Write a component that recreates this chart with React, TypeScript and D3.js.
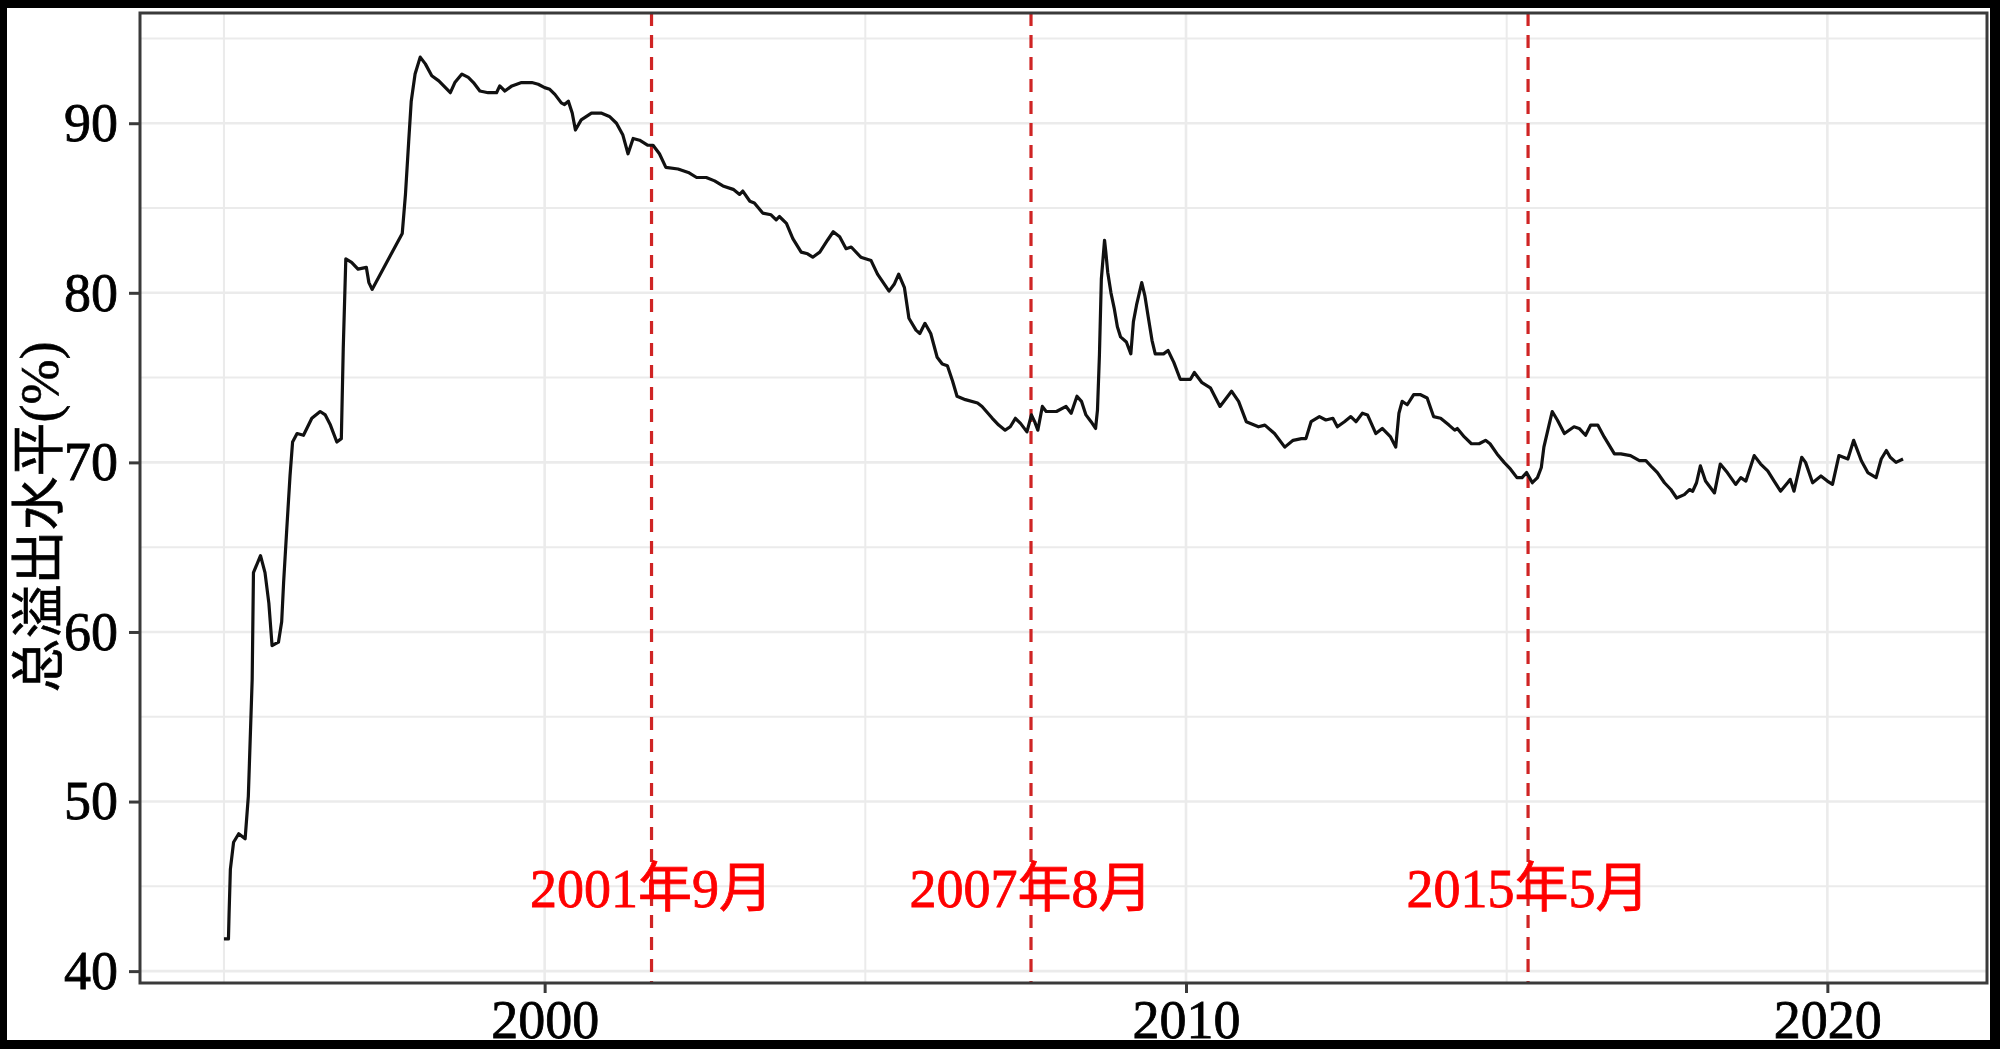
import React, { useEffect, useRef } from "react";
import * as d3 from "d3";

// spillover level over time (decimal years)
const years = [
  1995.0, 1995.07, 1995.08, 1995.1, 1995.15, 1995.23, 1995.33, 1995.38, 1995.44, 1995.46,
  1995.57, 1995.64, 1995.7, 1995.75, 1995.85, 1995.9, 1995.93, 1995.98, 1996.03, 1996.07,
  1996.14, 1996.24, 1996.37, 1996.5, 1996.58, 1996.66, 1996.76, 1996.83, 1996.86, 1996.9,
  1996.99, 1997.09, 1997.22, 1997.26, 1997.31, 1997.78, 1997.83, 1997.88, 1997.92, 1997.98,
  1998.06, 1998.14, 1998.24, 1998.35, 1998.53, 1998.6, 1998.71, 1998.81, 1998.89, 1998.99,
  1999.12, 1999.25, 1999.3, 1999.38, 1999.49, 1999.64, 1999.8, 1999.9, 2000.0, 2000.08,
  2000.16, 2000.26, 2000.31, 2000.37, 2000.43, 2000.48, 2000.57, 2000.73, 2000.88, 2001.01,
  2001.12, 2001.22, 2001.3, 2001.38, 2001.48, 2001.61, 2001.69, 2001.79, 2001.89, 2002.08,
  2002.24, 2002.37, 2002.52, 2002.65, 2002.78, 2002.94, 2003.04, 2003.09, 2003.2, 2003.27,
  2003.4, 2003.53, 2003.61, 2003.66, 2003.77, 2003.87, 2004.0, 2004.1, 2004.18, 2004.29,
  2004.41, 2004.5, 2004.6, 2004.7, 2004.78, 2004.93, 2005.09, 2005.19, 2005.37, 2005.45,
  2005.52, 2005.61, 2005.68, 2005.79, 2005.85, 2005.93, 2006.02, 2006.12, 2006.2, 2006.28,
  2006.36, 2006.43, 2006.56, 2006.75, 2006.82, 2006.98, 2007.08, 2007.18, 2007.26, 2007.34,
  2007.42, 2007.52, 2007.59, 2007.64, 2007.69, 2007.76, 2007.82, 2007.98, 2008.13, 2008.21,
  2008.3, 2008.37, 2008.44, 2008.52, 2008.59, 2008.62, 2008.65, 2008.68, 2008.73, 2008.75,
  2008.78, 2008.83, 2008.88, 2008.93, 2008.98, 2009.07, 2009.14, 2009.18, 2009.23, 2009.31,
  2009.36, 2009.41, 2009.47, 2009.52, 2009.65, 2009.72, 2009.81, 2009.91, 2010.07, 2010.13,
  2010.25, 2010.38, 2010.53, 2010.71, 2010.82, 2010.94, 2011.13, 2011.23, 2011.38, 2011.54,
  2011.67, 2011.8, 2011.87, 2011.95, 2012.08, 2012.18, 2012.29, 2012.36, 2012.47, 2012.57,
  2012.65, 2012.75, 2012.83, 2012.96, 2013.06, 2013.19, 2013.27, 2013.32, 2013.37, 2013.45,
  2013.55, 2013.65, 2013.76, 2013.86, 2013.97, 2014.1, 2014.19, 2014.23, 2014.34, 2014.45,
  2014.57, 2014.67, 2014.74, 2014.85, 2014.96, 2015.06, 2015.16, 2015.24, 2015.31, 2015.4,
  2015.48, 2015.54, 2015.58, 2015.66, 2015.71, 2015.79, 2015.9, 2016.05, 2016.13, 2016.23,
  2016.31, 2016.42, 2016.52, 2016.68, 2016.78, 2016.93, 2017.07, 2017.17, 2017.27, 2017.35,
  2017.46, 2017.56, 2017.65, 2017.77, 2017.85, 2017.9, 2017.96, 2018.02, 2018.1, 2018.24,
  2018.33, 2018.44, 2018.57, 2018.65, 2018.73, 2018.86, 2018.96, 2019.07, 2019.17, 2019.27,
  2019.38, 2019.42, 2019.48, 2019.6, 2019.66, 2019.77, 2019.9, 2020.0, 2020.08, 2020.18,
  2020.32, 2020.41, 2020.53, 2020.63, 2020.76, 2020.84, 2020.92, 2020.98, 2021.07, 2021.18,
];

const spillover = [
  41.9, 41.9, 43.4, 46.0, 47.6, 48.1, 47.8, 50.3, 57.2, 63.5,
  64.5, 63.5, 61.7, 59.2, 59.4, 60.6, 62.9, 66.1, 69.2, 71.2,
  71.7, 71.6, 72.6, 73.0, 72.8, 72.2, 71.2, 71.4, 76.7, 82.0,
  81.8, 81.4, 81.5, 80.6, 80.2, 83.5, 85.8, 88.9, 91.3, 92.9,
  93.9, 93.5, 92.8, 92.5, 91.8, 92.4, 92.9, 92.7, 92.4, 91.9,
  91.8, 91.8, 92.2, 91.9, 92.2, 92.4, 92.4, 92.3, 92.1, 92.0,
  91.7, 91.2, 91.1, 91.3, 90.6, 89.6, 90.2, 90.6, 90.6, 90.4,
  90.0, 89.3, 88.2, 89.1, 89.0, 88.7, 88.7, 88.2, 87.4, 87.3,
  87.1, 86.8, 86.8, 86.6, 86.3, 86.1, 85.8, 86.0, 85.4, 85.3,
  84.7, 84.6, 84.3, 84.5, 84.1, 83.2, 82.4, 82.3, 82.1, 82.4,
  83.1, 83.6, 83.3, 82.6, 82.7, 82.1, 81.9, 81.1, 80.1, 80.5,
  81.1, 80.3, 78.5, 77.8, 77.6, 78.2, 77.6, 76.2, 75.8, 75.7,
  74.8, 73.9, 73.7, 73.5, 73.3, 72.6, 72.2, 71.9, 72.1, 72.6,
  72.3, 71.8, 72.8, 72.4, 71.9, 73.3, 73.0, 73.0, 73.3, 72.9,
  73.9, 73.6, 72.8, 72.4, 72.0, 73.1, 76.3, 80.8, 83.1, 82.4,
  81.2, 80.0, 79.1, 78.0, 77.4, 77.1, 76.4, 78.3, 79.3, 80.6,
  79.8, 78.6, 77.2, 76.4, 76.4, 76.6, 75.9, 74.9, 74.9, 75.3,
  74.7, 74.4, 73.3, 74.2, 73.6, 72.4, 72.1, 72.2, 71.7, 70.9,
  71.3, 71.4, 71.4, 72.4, 72.7, 72.5, 72.6, 72.1, 72.4, 72.7,
  72.4, 72.9, 72.8, 71.7, 72.0, 71.5, 70.9, 72.9, 73.6, 73.4,
  74.0, 74.0, 73.8, 72.7, 72.6, 72.2, 71.9, 72.0, 71.5, 71.1,
  71.1, 71.3, 71.1, 70.5, 70.0, 69.6, 69.1, 69.1, 69.4, 68.8,
  69.1, 69.7, 70.9, 72.2, 73.0, 72.5, 71.7, 72.1, 72.0, 71.6,
  72.2, 72.2, 71.5, 70.5, 70.5, 70.4, 70.1, 70.1, 69.7, 69.4,
  68.8, 68.4, 67.9, 68.1, 68.4, 68.3, 68.8, 69.8, 68.9, 68.2,
  69.9, 69.4, 68.7, 69.1, 68.9, 70.4, 69.9, 69.5, 68.9, 68.3,
  68.8, 69.0, 68.3, 70.3, 70.0, 68.8, 69.2, 68.9, 68.7, 70.4,
  70.2, 71.3, 70.1, 69.4, 69.1, 70.2, 70.7, 70.3, 70.0, 70.2,
];

// marked events: Sep 2001, Aug 2007, May 2015
const eventYears = [2001 + 8 / 12, 2007 + 7 / 12, 2015 + 4 / 12];
const eventLabels = ["2001年9月", "2007年8月", "2015年5月"];

const yTicks = [40, 50, 60, 70, 80, 90];
const yMinor = [45, 55, 65, 75, 85, 95];
const xTicks = [2000, 2010, 2020];
const xMinor = [1995, 2005, 2015];

const yTitle = "总溢出水平(%)";

const FONT = "'Liberation Serif', 'Times New Roman', 'Noto Sans CJK SC', serif";

const App = () => {
  const ref = useRef<SVGSVGElement | null>(null);

  useEffect(() => {
    const width = 2000,
      height = 1049;
    const margin = { top: 13, right: 13, bottom: 66, left: 140 };

    const svg = d3.select(ref.current);
    svg.selectAll("*").remove();

    svg.append("rect").attr("width", width).attr("height", height).attr("fill", "#fff");

    const data = years.map((t, i) => ({ t, v: spillover[i] }));

    // ggplot-like 5% expansion of the data range
    const [t0, t1] = d3.extent(years) as [number, number];
    const [v0, v1] = d3.extent(spillover) as [number, number];
    const tPad = (t1 - t0) * 0.05,
      vPad = (v1 - v0) * 0.05;

    const x = d3
      .scaleLinear()
      .domain([t0 - tPad, t1 + tPad])
      .range([margin.left, width - margin.right]);
    const y = d3
      .scaleLinear()
      .domain([v0 - vPad, v1 + vPad])
      .range([height - margin.bottom, margin.top]);

    const g = svg.append("g");

    // grid
    const grid = g.append("g").attr("stroke", "#ebebeb").attr("fill", "none");
    grid
      .selectAll("line.ymin")
      .data(yMinor)
      .join("line")
      .attr("x1", margin.left)
      .attr("x2", width - margin.right)
      .attr("y1", (d) => y(d))
      .attr("y2", (d) => y(d))
      .attr("stroke-width", 2);
    grid
      .selectAll("line.xmin")
      .data(xMinor)
      .join("line")
      .attr("y1", margin.top)
      .attr("y2", height - margin.bottom)
      .attr("x1", (d) => x(d))
      .attr("x2", (d) => x(d))
      .attr("stroke-width", 2);
    grid
      .selectAll("line.ymaj")
      .data(yTicks)
      .join("line")
      .attr("x1", margin.left)
      .attr("x2", width - margin.right)
      .attr("y1", (d) => y(d))
      .attr("y2", (d) => y(d))
      .attr("stroke-width", 2.6);
    grid
      .selectAll("line.xmaj")
      .data(xTicks)
      .join("line")
      .attr("y1", margin.top)
      .attr("y2", height - margin.bottom)
      .attr("x1", (d) => x(d))
      .attr("x2", (d) => x(d))
      .attr("stroke-width", 2.6);

    // event markers
    g.append("g")
      .selectAll("line")
      .data(eventYears)
      .join("line")
      .attr("x1", (d) => x(d))
      .attr("x2", (d) => x(d))
      .attr("y1", margin.top)
      .attr("y2", height - margin.bottom)
      .attr("stroke", "#cf2424")
      .attr("stroke-width", 3.2)
      .attr("stroke-dasharray", "13,9");

    // series
    const line = d3
      .line<{ t: number; v: number }>()
      .x((d) => x(d.t))
      .y((d) => y(d.v));
    g.append("path")
      .datum(data)
      .attr("d", line)
      .attr("fill", "none")
      .attr("stroke", "#111")
      .attr("stroke-width", 3.2)
      .attr("stroke-linejoin", "round");

    // event labels
    g.append("g")
      .selectAll("text")
      .data(eventYears)
      .join("text")
      .attr("x", (d) => x(d))
      .attr("y", 907)
      .attr("text-anchor", "middle")
      .attr("fill", "#ff0000")
      .attr("stroke", "#ff0000")
      .attr("stroke-width", 0.8)
      .style("font-family", FONT)
      .style("font-size", "54px")
      .text((_, i) => eventLabels[i]);

    // panel border
    g.append("rect")
      .attr("x", margin.left)
      .attr("y", margin.top)
      .attr("width", width - margin.left - margin.right)
      .attr("height", height - margin.top - margin.bottom)
      .attr("fill", "none")
      .attr("stroke", "#3a3a3a")
      .attr("stroke-width", 3);

    // axes
    const yAxis = g
      .append("g")
      .attr("transform", `translate(${margin.left},0)`)
      .call(d3.axisLeft(y).tickValues(yTicks).tickSize(11).tickPadding(11));
    const xAxis = g
      .append("g")
      .attr("transform", `translate(0,${height - margin.bottom})`)
      .call(d3.axisBottom(x).tickValues(xTicks).tickFormat(d3.format("d")).tickSize(10));

    [yAxis, xAxis].forEach((a) => {
      a.select(".domain").remove();
      a.selectAll(".tick line").attr("stroke", "#3a3a3a").attr("stroke-width", 3);
      a.selectAll(".tick text")
        .attr("fill", "#000")
        .attr("stroke", "#000")
        .attr("stroke-width", 0.8)
        .style("font-family", FONT)
        .style("font-size", "54px");
    });
    xAxis.selectAll(".tick text").attr("y", 55).attr("dy", "0");

    // y title
    svg
      .append("text")
      .attr("transform", `translate(58,517) rotate(-90)`)
      .attr("text-anchor", "middle")
      .attr("fill", "#000")
      .attr("stroke", "#000")
      .attr("stroke-width", 0.6)
      .style("font-family", FONT)
      .style("font-size", "54px")
      .text(yTitle);

    // black frame around the picture
    svg
      .append("path")
      .attr("d", `M0,0H${width}V${height}H0Z M7,8V1040H1990V8Z`)
      .attr("fill", "#000")
      .attr("fill-rule", "evenodd");
  }, []);

  return (
    <svg
      ref={ref}
      width={2000}
      height={1049}
      style={{ position: "absolute", left: 0, top: 0, display: "block" }}
    />
  );
};

export default App;
